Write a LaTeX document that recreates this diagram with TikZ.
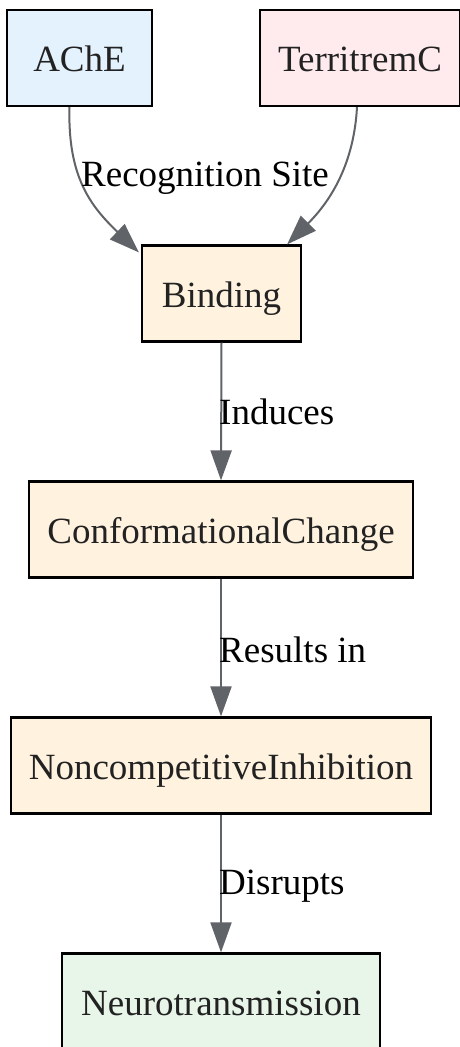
\documentclass[tikz,border=0pt]{standalone}
\usepackage{fontspec}
\setmainfont{Liberation Serif}
\usetikzlibrary{arrows.meta,calc}
\definecolor{edgegray}{HTML}{606368}
\definecolor{txt}{HTML}{222222}
\definecolor{fblue}{HTML}{E3F2FD}
\definecolor{fpink}{HTML}{FFEBEE}
\definecolor{forange}{HTML}{FFF3E0}
\definecolor{fgreen}{HTML}{E8F5E9}
\tikzset{
  box/.style={draw=black, line width=2.2pt, inner sep=0pt, minimum height=96pt, text=txt,
    text height=31pt, text depth=4pt,
    font=\fontsize{37}{40}\selectfont},
  conn/.style={draw=edgegray, line width=2pt, -{Triangle[length=30pt,width=21pt]}},
  lbl/.style={font=\fontsize{37}{40}\selectfont, text=black, inner sep=0pt}
}
\begin{document}
\begin{tikzpicture}[x=1pt,y=1pt]
\useasboundingbox (0,0) rectangle (460,-1047);
\node[box, fill=fblue, minimum width=145pt] (ache) at (79.5,-58) {AChE};
\node[box, fill=fpink, minimum width=200pt] (terr) at (360,-58) {TerritremC};
\node[box, fill=forange, minimum width=159pt] (bind) at (221.5,-293.5) {Binding};
\node[box, fill=forange, minimum width=384pt] (conf) at (221,-529.5) {ConformationalChange};
\node[box, fill=forange, minimum width=420pt] (nonc) at (221,-765.5) {NoncompetitiveInhibition};
\node[box, fill=fgreen, minimum width=318pt] (neur) at (221,-1001.5) {Neurotransmission};

\draw[conn] ($(ache.south)+(-10,0)$) .. controls +(-2,-70) and ($(bind.north west)+(-50,38)$) .. ($(bind.north west)+(-2,-8)$);
\draw[conn] ($(terr.south)+(-3,0)$) .. controls +(-3,-55) and ($(bind.north east)+(30,45)$) .. ($(bind.north east)+(-15,0)$);
\node[lbl] (l1) at (205,-178) {Recognition Site};

\draw[conn] (bind.south) -- (conf.north);
\node[lbl, anchor=west] (l2) at (219,-412) {Induces};
\draw[conn] (conf.south) -- (nonc.north);
\node[lbl, anchor=west] (l3) at (219,-650) {Results in};
\draw[conn] (nonc.south) -- (neur.north);
\node[lbl, anchor=west] (l4) at (219,-886) {Disrupts};
\end{tikzpicture}
\end{document}
